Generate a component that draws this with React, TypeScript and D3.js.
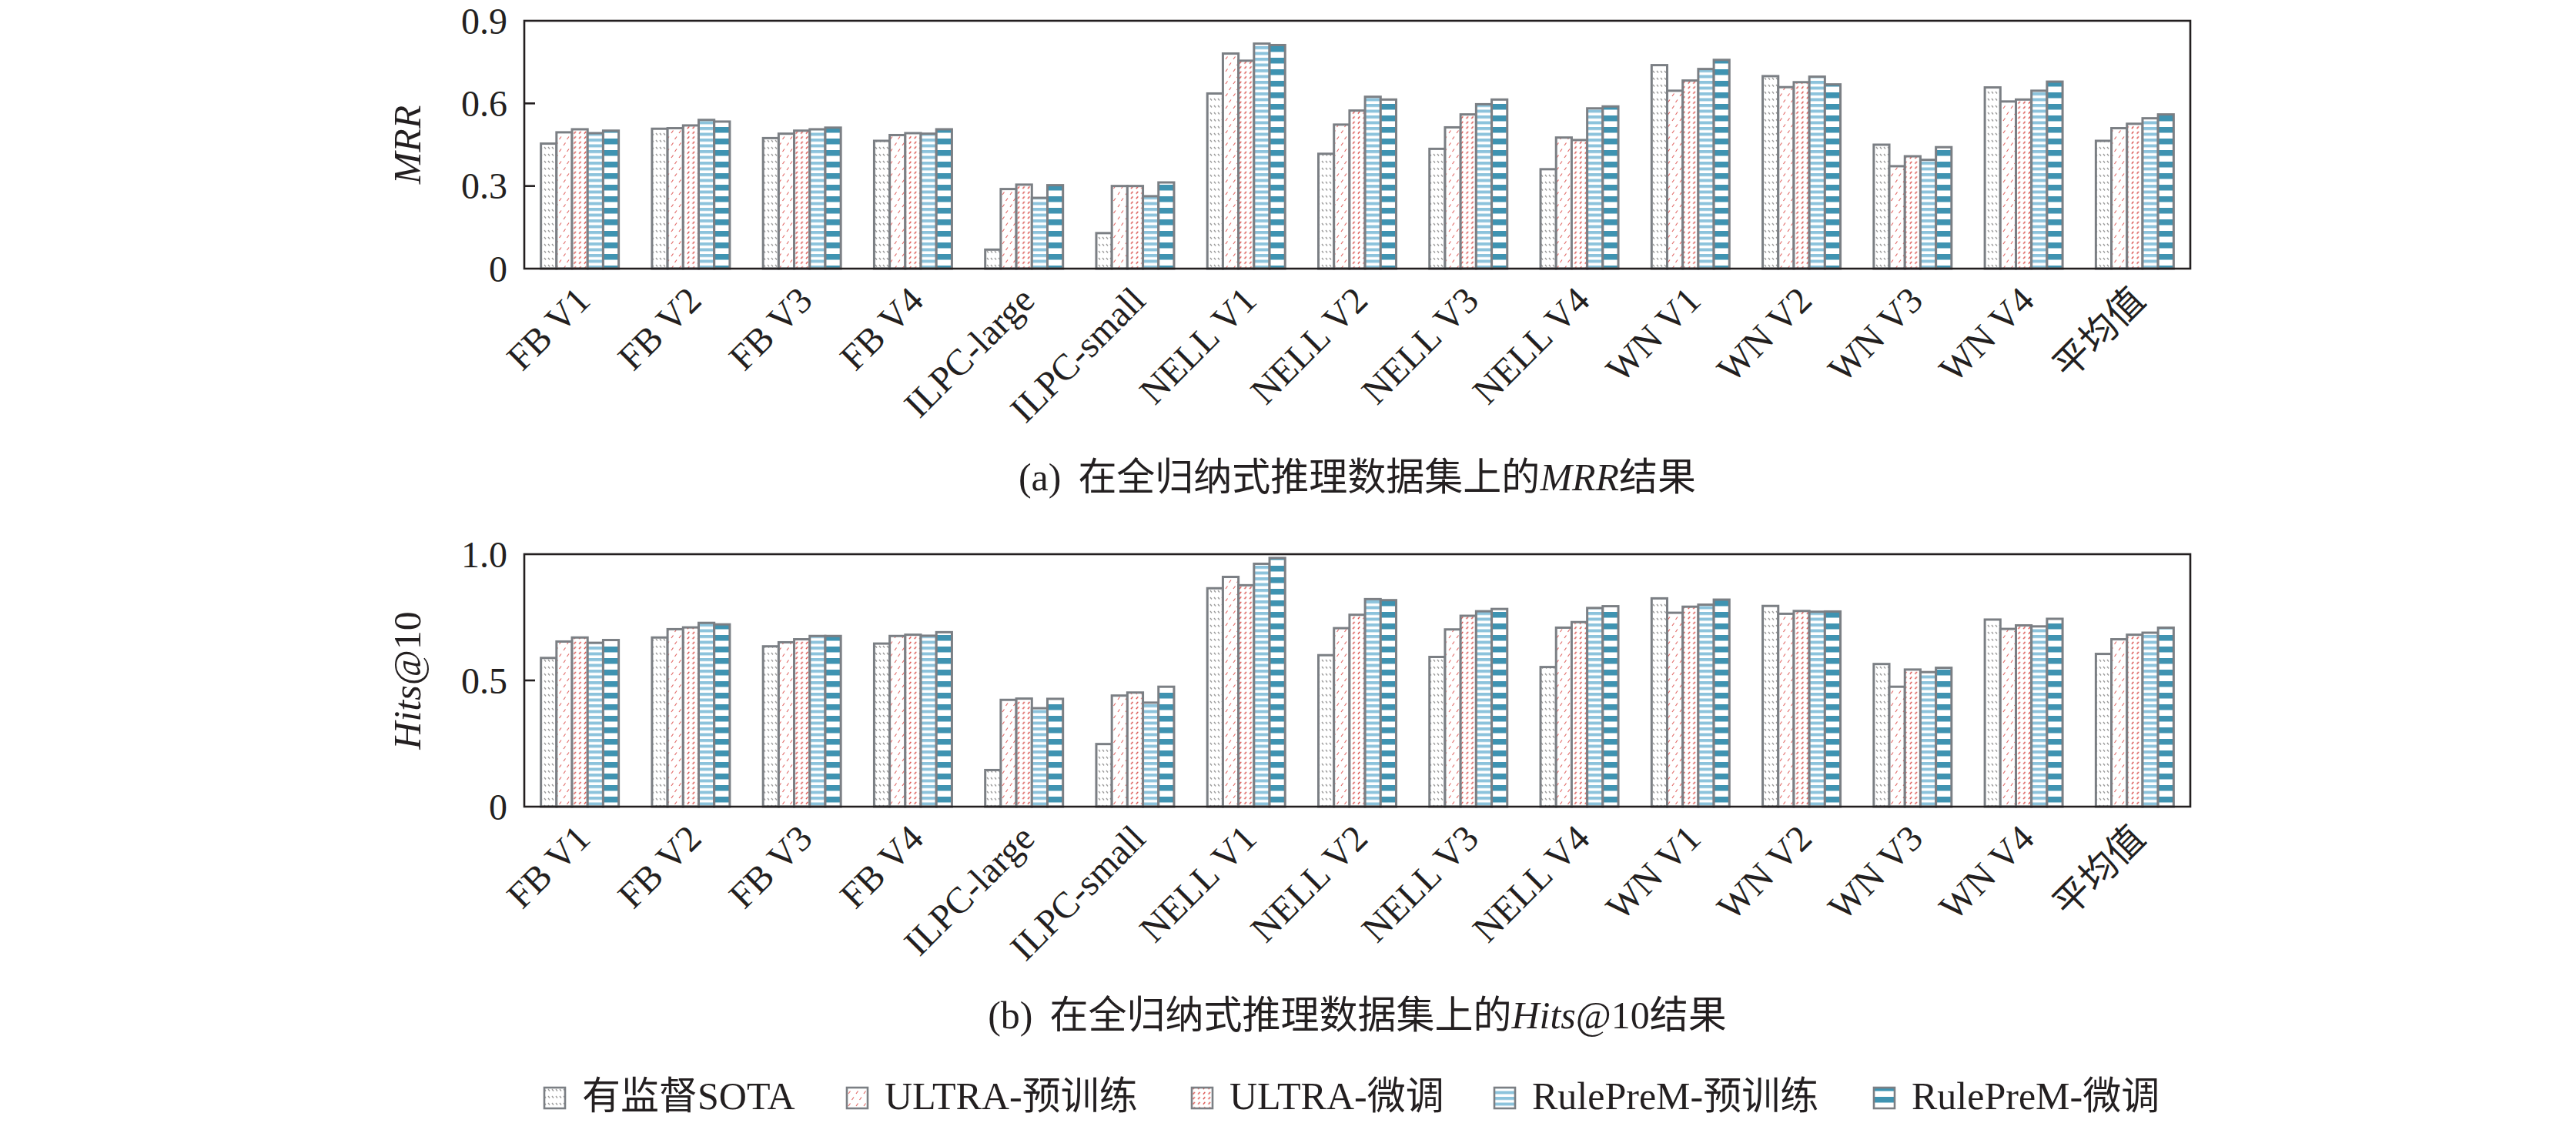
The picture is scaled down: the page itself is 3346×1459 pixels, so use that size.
import React from "react";
import * as d3 from "d3";

const CATEGORIES = ["FB V1", "FB V2", "FB V3", "FB V4", "ILPC-large", "ILPC-small", "NELL V1", "NELL V2", "NELL V3", "NELL V4", "WN V1", "WN V2", "WN V3", "WN V4", "平均值"];
const SERIES = ["有监督SOTA", "ULTRA-预训练", "ULTRA-微调", "RulePreM-预训练", "RulePreM-微调"];

const MRR_SOTA = [0.454, 0.508, 0.474, 0.464, 0.069, 0.129, 0.636, 0.417, 0.435, 0.361, 0.739, 0.699, 0.450, 0.658, 0.464];
const MRR_ULTRA_PRE = [0.495, 0.510, 0.490, 0.485, 0.289, 0.300, 0.781, 0.523, 0.513, 0.476, 0.646, 0.659, 0.372, 0.607, 0.510];
const MRR_ULTRA_FT = [0.506, 0.520, 0.501, 0.492, 0.305, 0.300, 0.755, 0.574, 0.560, 0.467, 0.683, 0.677, 0.408, 0.614, 0.526];
const MRR_RP_PRE = [0.492, 0.540, 0.506, 0.490, 0.257, 0.263, 0.817, 0.624, 0.597, 0.582, 0.725, 0.697, 0.395, 0.646, 0.546];
const MRR_RP_FT = [0.501, 0.534, 0.512, 0.506, 0.303, 0.313, 0.812, 0.614, 0.614, 0.589, 0.758, 0.669, 0.441, 0.679, 0.560];

const HITS_SOTA = [0.589, 0.670, 0.635, 0.646, 0.145, 0.248, 0.865, 0.600, 0.593, 0.553, 0.825, 0.795, 0.565, 0.741, 0.605];
const HITS_ULTRA_PRE = [0.654, 0.703, 0.651, 0.676, 0.423, 0.440, 0.910, 0.707, 0.702, 0.709, 0.768, 0.764, 0.475, 0.704, 0.663];
const HITS_ULTRA_FT = [0.670, 0.710, 0.663, 0.681, 0.428, 0.452, 0.877, 0.760, 0.756, 0.731, 0.792, 0.775, 0.543, 0.718, 0.681];
const HITS_RP_PRE = [0.649, 0.728, 0.676, 0.677, 0.390, 0.412, 0.962, 0.822, 0.774, 0.787, 0.800, 0.772, 0.533, 0.714, 0.689];
const HITS_RP_FT = [0.660, 0.722, 0.676, 0.691, 0.427, 0.475, 0.985, 0.818, 0.783, 0.794, 0.820, 0.773, 0.550, 0.744, 0.709];

const MRR_TICKS = [0, 0.3, 0.6, 0.9];
const MRR_TICK_LABELS = ["0", "0.3", "0.6", "0.9"];
const HITS_TICKS = [0, 0.5, 1.0];
const HITS_TICK_LABELS = ["0", "0.5", "1.0"];

const MRR_DATA = [MRR_SOTA, MRR_ULTRA_PRE, MRR_ULTRA_FT, MRR_RP_PRE, MRR_RP_FT];
const HITS_DATA = [HITS_SOTA, HITS_ULTRA_PRE, HITS_ULTRA_FT, HITS_RP_PRE, HITS_RP_FT];

const W = 3346;
const H = 1459;
const X0 = 681;
const X1 = 2845;
const SERIF = "'Liberation Serif', 'Times New Roman', 'Noto Sans CJK SC', serif";
const BAR_STROKE = "#7b7f84";
const AXIS = "#231f20";
const PATTERN_IDS = ["p-sota", "p-upre", "p-uft", "p-rpre", "p-rft"];

const xBand = d3.scaleBand<string>().domain(CATEGORIES).range([X0, X1]).paddingInner(0).paddingOuter(0);
const groupW = xBand.bandwidth() * 0.7;
const xSeries = d3.scaleBand<string>().domain(SERIES).range([0, groupW]).padding(0);

function Patterns() {
  return (
    <defs>
      <pattern id="p-sota" patternUnits="userSpaceOnUse" width="10" height="9">
        <rect width="10" height="9" fill="#fff" />
        <line x1="2" y1="2" x2="4" y2="4.5" stroke="#9a9a9a" strokeWidth="1.3" />
        <line x1="7" y1="2" x2="9" y2="4.5" stroke="#9a9a9a" strokeWidth="1.3" />
      </pattern>
      <pattern id="p-upre" patternUnits="userSpaceOnUse" width="10" height="16">
        <rect width="10" height="16" fill="#fff" />
        <line x1="2" y1="13" x2="4.5" y2="9.5" stroke="#e26a68" strokeWidth="1.2" />
        <line x1="6.5" y1="5" x2="9" y2="1.5" stroke="#e26a68" strokeWidth="1.2" />
      </pattern>
      <pattern id="p-uft" patternUnits="userSpaceOnUse" width="6.7" height="6.5">
        <rect width="6.7" height="6.5" fill="#fff" />
        <line x1="1.8" y1="4.6" x2="4.2" y2="1.8" stroke="#d8433f" strokeWidth="1.3" />
      </pattern>
      <pattern id="p-rpre" patternUnits="userSpaceOnUse" width="20" height="7.5">
        <rect width="20" height="7.5" fill="#ffffff" />
        <rect y="0" width="20" height="4" fill="#8cc3dc" />
      </pattern>
      <pattern id="p-rft" patternUnits="userSpaceOnUse" width="20" height="15">
        <rect width="20" height="15" fill="#ffffff" />
        <rect y="0" width="20" height="7.5" fill="#3f93b1" />
      </pattern>
    </defs>
  );
}

type PanelProps = {
  top: number;
  bottom: number;
  maxV: number;
  ticks: number[];
  tickLabels: string[];
  data: number[][];
  yLabel: React.ReactNode;
};

function Panel({ top, bottom, maxV, ticks, tickLabels, data, yLabel }: PanelProps) {
  const y = d3.scaleLinear().domain([0, maxV]).range([bottom, top]);
  const bw = xSeries.bandwidth();
  return (
    <g>
      {CATEGORIES.map((c, ci) => {
        const gx = (xBand(c) as number) + (xBand.bandwidth() - groupW) / 2;
        return (
          <g key={c}>
            {SERIES.map((s, si) => {
              const v = data[si][ci];
              const bx = gx + (xSeries(s) as number);
              return (
                <rect
                  key={s}
                  x={bx}
                  y={y(v)}
                  width={bw}
                  height={y(0) - y(v)}
                  fill={`url(#${PATTERN_IDS[si]})`}
                  stroke={BAR_STROKE}
                  strokeWidth={3}
                />
              );
            })}
          </g>
        );
      })}
      <rect x={X0} y={top} width={X1 - X0} height={bottom - top} fill="none" stroke={AXIS} strokeWidth={2.6} />
      {ticks.map((t, i) => (
        <g key={t}>
          {t > 0 && t < maxV ? <line x1={X0} x2={X0 + 14} y1={y(t)} y2={y(t)} stroke={AXIS} strokeWidth={2.6} /> : null}
          <text x={X0 - 22} y={y(t)} dy="0.35em" textAnchor="end" fontFamily={SERIF} fontSize={48} fill={AXIS}>
            {tickLabels[i]}
          </text>
        </g>
      ))}
      {CATEGORIES.map((c) => {
        const cx = (xBand(c) as number) + xBand.bandwidth() / 2;
        return (
          <text
            key={c}
            transform={`translate(${cx + 16},${bottom + 44}) rotate(-45)`}
            textAnchor="end"
            fontFamily={SERIF}
            fontSize={48}
            fill={AXIS}
          >
            {c}
          </text>
        );
      })}
      <text
        transform={`translate(546,${(top + bottom) / 2}) rotate(-90)`}
        textAnchor="middle"
        fontFamily={SERIF}
        fontSize={50}
        fill={AXIS}
      >
        {yLabel}
      </text>
    </g>
  );
}

const LEGEND_X = [707, 1100, 1548, 1941, 2434];

export default function App() {
  const cx = (X0 + X1) / 2;
  return (
    <svg width={W} height={H} viewBox={`0 0 ${W} ${H}`} style={{ position: "absolute", left: 0, top: 0, background: "#fff" }}>
      <Patterns />
      <rect width={W} height={H} fill="#fff" />
      <Panel
        top={27}
        bottom={349}
        maxV={0.9}
        ticks={MRR_TICKS}
        tickLabels={MRR_TICK_LABELS}
        data={MRR_DATA}
        yLabel={<tspan fontStyle="italic">MRR</tspan>}
      />
      <Panel
        top={720}
        bottom={1048}
        maxV={1.0}
        ticks={HITS_TICKS}
        tickLabels={HITS_TICK_LABELS}
        data={HITS_DATA}
        yLabel={
          <>
            <tspan fontStyle="italic">Hits</tspan>
            <tspan>@10</tspan>
          </>
        }
      />
      <text x={cx} y={637} textAnchor="middle" fontFamily={SERIF} fontSize={50} fill={AXIS}>
        <tspan>(a)</tspan>
        <tspan dx="22">在全归纳式推理数据集上的</tspan>
        <tspan fontStyle="italic">MRR</tspan>
        <tspan>结果</tspan>
      </text>
      <text x={cx} y={1336} textAnchor="middle" fontFamily={SERIF} fontSize={50} fill={AXIS}>
        <tspan>(b)</tspan>
        <tspan dx="22">在全归纳式推理数据集上的</tspan>
        <tspan fontStyle="italic">Hits</tspan>
        <tspan>@10结果</tspan>
      </text>
      {SERIES.map((s, i) => (
        <g key={s}>
          <rect x={LEGEND_X[i]} y={1413} width={27} height={27} fill={`url(#${PATTERN_IDS[i]})`} stroke={BAR_STROKE} strokeWidth={2.6} />
          <text x={LEGEND_X[i] + 49} y={1441} fontFamily={SERIF} fontSize={50} fill={AXIS}>
            {s}
          </text>
        </g>
      ))}
    </svg>
  );
}
